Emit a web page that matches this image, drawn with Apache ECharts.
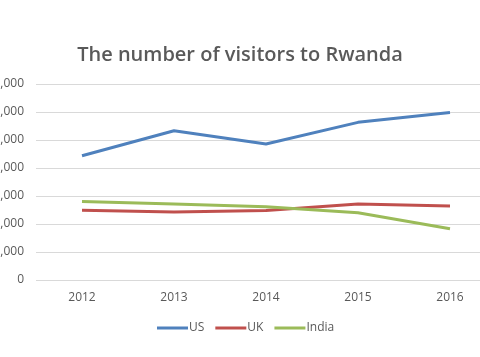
<!DOCTYPE html>
<html><head><meta charset="utf-8">
<script src="https://cdn.jsdelivr.net/npm/echarts@6/dist/echarts.min.js"></script>
<style>html,body{margin:0;padding:0;background:#fff}#c{width:480px;height:357px}</style>
</head><body><div id="c"></div>
<script>
const years = ['2012','2013','2014','2015','2016'];
const usVisitors = [44400, 53300, 48600, 56300, 59800];
const ukVisitors = [24900, 24300, 24800, 27100, 26400];
const indiaVisitors = [28000, 27100, 26200, 24000, 18300];
const chart = echarts.init(document.getElementById('c'));
const fontFam = '"Open Sans", "Liberation Sans", sans-serif';
chart.setOption({
  backgroundColor: '#fff',
  animation: false,
  title: {
    text: 'The number of visitors to Rwanda',
    left: 'center', top: 40,
    textStyle: {fontFamily: fontFam, fontSize: 20, fontWeight: 600, color: '#595959'}
  },
  legend: {
    bottom: 18, left: 152, itemWidth: 31, itemHeight: 3, itemGap: 11,
    icon: 'rect',
    textStyle: {fontFamily: fontFam, fontSize: 12, color: '#595959', padding: [0,0,0,-4]},
    data: ['US','UK','India']
  },
  grid: {left: 36, right: -16, top: 84, bottom: 77, containLabel: false, outerBoundsMode: 'none'},
  xAxis: {
    type: 'category', data: years, boundaryGap: true,
    axisLine: {show: false}, axisTick: {show: false},
    axisLabel: {fontFamily: fontFam, fontSize: 12, color: '#595959', margin: 12}
  },
  yAxis: {
    type: 'value', min: 0, max: 70000, interval: 10000,
    axisLine: {show: false}, axisTick: {show: false},
    splitLine: {lineStyle: {color: '#d9d9d9', width: 1}},
    axisLabel: {fontFamily: fontFam, fontSize: 12, color: '#595959', margin: 12,
      formatter: v => v.toLocaleString('en-US')}
  },
  series: [
    {name: 'US', type: 'line', data: usVisitors, symbol: 'none', lineStyle: {width: 3, color: '#4f81bd'}, itemStyle: {color: '#4f81bd'}},
    {name: 'UK', type: 'line', data: ukVisitors, symbol: 'none', lineStyle: {width: 3, color: '#c0504d'}, itemStyle: {color: '#c0504d'}},
    {name: 'India', type: 'line', data: indiaVisitors, symbol: 'none', lineStyle: {width: 3, color: '#9bbb59'}, itemStyle: {color: '#9bbb59'}}
  ]
});
</script></body></html>
